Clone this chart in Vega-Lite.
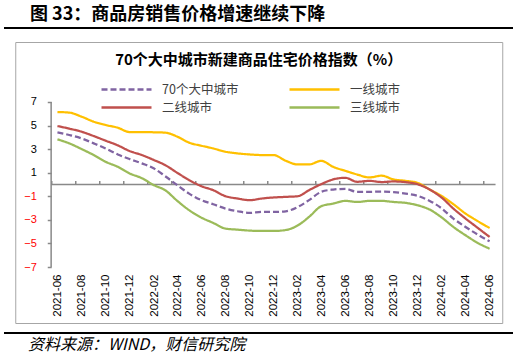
{
  "$schema": "https://vega.github.io/schema/vega-lite/v6.json",
  "background": "white",
  "padding": {"top": 6, "left": 3, "right": 0, "bottom": 8},
  "config": {"view": {"stroke": null}, "font": "Noto Sans CJK SC"},
  "spacing": 8,
  "center": true,
  "vconcat": [
    {
      "spacing": 12,
      "center": true,
      "vconcat": [
        {
          "width": 509,
          "height": 2,
          "title": {"text": "图 33：商品房销售价格增速继续下降", "anchor": "start", "frame": "group", "align": "left", "dx": 26, "fontSize": 18, "fontWeight": "bold", "color": "#000000", "offset": 3, "font": "Noto Sans CJK SC"},
          "data": {"values": [{}]},
          "mark": {"type": "rule", "color": "#000000", "strokeWidth": 2},
          "encoding": {"y": {"datum": 0.5, "type": "quantitative", "scale": {"domain": [0, 1]}, "axis": null}}
        },
        {
          "width": 487,
          "height": 281,
          "view": {"stroke": "#a6a6a6", "strokeWidth": 1},
          "title": {"text": "70个大中城市新建商品住宅价格指数（%）", "fontSize": 15, "fontWeight": "bold", "color": "#000000", "anchor": "middle", "frame": "group", "offset": -26, "font": "Noto Sans CJK SC"},
          "data": {
            "format": {"parse": {"date": "date:'%Y-%m'"}},
            "values": [
              {"date": "2021-06", "series": "70个大中城市", "value": 4.43},
              {"date": "2021-07", "series": "70个大中城市", "value": 4.2},
              {"date": "2021-08", "series": "70个大中城市", "value": 3.91},
              {"date": "2021-09", "series": "70个大中城市", "value": 3.49},
              {"date": "2021-10", "series": "70个大中城市", "value": 3.06},
              {"date": "2021-11", "series": "70个大中城市", "value": 2.55},
              {"date": "2021-12", "series": "70个大中城市", "value": 2.16},
              {"date": "2022-01", "series": "70个大中城市", "value": 1.79},
              {"date": "2022-02", "series": "70个大中城市", "value": 1.36},
              {"date": "2022-03", "series": "70个大中城市", "value": 0.71},
              {"date": "2022-04", "series": "70个大中城市", "value": -0.06},
              {"date": "2022-05", "series": "70个大中城市", "value": -0.77},
              {"date": "2022-06", "series": "70个大中城市", "value": -1.33},
              {"date": "2022-07", "series": "70个大中城市", "value": -1.67},
              {"date": "2022-08", "series": "70个大中城市", "value": -2.04},
              {"date": "2022-09", "series": "70个大中城市", "value": -2.27},
              {"date": "2022-10", "series": "70个大中城市", "value": -2.41},
              {"date": "2022-11", "series": "70个大中城市", "value": -2.33},
              {"date": "2022-12", "series": "70个大中城市", "value": -2.33},
              {"date": "2023-01", "series": "70个大中城市", "value": -2.27},
              {"date": "2023-02", "series": "70个大中城市", "value": -1.9},
              {"date": "2023-03", "series": "70个大中城市", "value": -1.33},
              {"date": "2023-04", "series": "70个大中城市", "value": -0.62},
              {"date": "2023-05", "series": "70个大中城市", "value": -0.43},
              {"date": "2023-06", "series": "70个大中城市", "value": -0.37},
              {"date": "2023-07", "series": "70个大中城市", "value": -0.62},
              {"date": "2023-08", "series": "70个大中城市", "value": -0.62},
              {"date": "2023-09", "series": "70个大中城市", "value": -0.6},
              {"date": "2023-10", "series": "70个大中城市", "value": -0.65},
              {"date": "2023-11", "series": "70个大中城市", "value": -0.77},
              {"date": "2023-12", "series": "70个大中城市", "value": -0.96},
              {"date": "2024-01", "series": "70个大中城市", "value": -1.39},
              {"date": "2024-02", "series": "70个大中城市", "value": -2.04},
              {"date": "2024-03", "series": "70个大中城市", "value": -2.89},
              {"date": "2024-04", "series": "70个大中城市", "value": -3.6},
              {"date": "2024-05", "series": "70个大中城市", "value": -4.23},
              {"date": "2024-06", "series": "70个大中城市", "value": -4.82},
              {"date": "2021-06", "series": "一线城市", "value": 6.15},
              {"date": "2021-07", "series": "一线城市", "value": 6.1},
              {"date": "2021-08", "series": "一线城市", "value": 5.76},
              {"date": "2021-09", "series": "一线城市", "value": 5.33},
              {"date": "2021-10", "series": "一线城市", "value": 5.05},
              {"date": "2021-11", "series": "一线城市", "value": 4.82},
              {"date": "2021-12", "series": "一线城市", "value": 4.45},
              {"date": "2022-01", "series": "一线城市", "value": 4.45},
              {"date": "2022-02", "series": "一线城市", "value": 4.43},
              {"date": "2022-03", "series": "一线城市", "value": 4.4},
              {"date": "2022-04", "series": "一线城市", "value": 4.06},
              {"date": "2022-05", "series": "一线城市", "value": 3.55},
              {"date": "2022-06", "series": "一线城市", "value": 3.29},
              {"date": "2022-07", "series": "一线城市", "value": 3.06},
              {"date": "2022-08", "series": "一线城市", "value": 2.78},
              {"date": "2022-09", "series": "一线城市", "value": 2.64},
              {"date": "2022-10", "series": "一线城市", "value": 2.55},
              {"date": "2022-11", "series": "一线城市", "value": 2.5},
              {"date": "2022-12", "series": "一线城市", "value": 2.5},
              {"date": "2023-01", "series": "一线城市", "value": 2.01},
              {"date": "2023-02", "series": "一线城市", "value": 1.7},
              {"date": "2023-03", "series": "一线城市", "value": 1.7},
              {"date": "2023-04", "series": "一线城市", "value": 2.01},
              {"date": "2023-05", "series": "一线城市", "value": 1.5},
              {"date": "2023-06", "series": "一线城市", "value": 1.16},
              {"date": "2023-07", "series": "一线城市", "value": 0.85},
              {"date": "2023-08", "series": "一线城市", "value": 0.6},
              {"date": "2023-09", "series": "一线城市", "value": 0.75},
              {"date": "2023-10", "series": "一线城市", "value": 0.43},
              {"date": "2023-11", "series": "一线城市", "value": 0.31},
              {"date": "2023-12", "series": "一线城市", "value": 0.14},
              {"date": "2024-01", "series": "一线城市", "value": -0.43},
              {"date": "2024-02", "series": "一线城市", "value": -0.99},
              {"date": "2024-03", "series": "一线城市", "value": -1.67},
              {"date": "2024-04", "series": "一线城市", "value": -2.47},
              {"date": "2024-05", "series": "一线城市", "value": -3.09},
              {"date": "2024-06", "series": "一线城市", "value": -3.69},
              {"date": "2021-06", "series": "二线城市", "value": 4.96},
              {"date": "2021-07", "series": "二线城市", "value": 4.74},
              {"date": "2021-08", "series": "二线城市", "value": 4.48},
              {"date": "2021-09", "series": "二线城市", "value": 4.11},
              {"date": "2021-10", "series": "二线城市", "value": 3.72},
              {"date": "2021-11", "series": "二线城市", "value": 3.32},
              {"date": "2021-12", "series": "二线城市", "value": 2.84},
              {"date": "2022-01", "series": "二线城市", "value": 2.5},
              {"date": "2022-02", "series": "二线城市", "value": 2.07},
              {"date": "2022-03", "series": "二线城市", "value": 1.65},
              {"date": "2022-04", "series": "二线城市", "value": 0.99},
              {"date": "2022-05", "series": "二线城市", "value": 0.37},
              {"date": "2022-06", "series": "二线城市", "value": -0.14},
              {"date": "2022-07", "series": "二线城市", "value": -0.48},
              {"date": "2022-08", "series": "二线城市", "value": -0.99},
              {"date": "2022-09", "series": "二线城市", "value": -1.19},
              {"date": "2022-10", "series": "二线城市", "value": -1.33},
              {"date": "2022-11", "series": "二线城市", "value": -1.19},
              {"date": "2022-12", "series": "二线城市", "value": -1.1},
              {"date": "2023-01", "series": "二线城市", "value": -1.05},
              {"date": "2023-02", "series": "二线城市", "value": -0.99},
              {"date": "2023-03", "series": "二线城市", "value": -0.48},
              {"date": "2023-04", "series": "二线城市", "value": 0.03},
              {"date": "2023-05", "series": "二线城市", "value": 0.43},
              {"date": "2023-06", "series": "二线城市", "value": 0.57},
              {"date": "2023-07", "series": "二线城市", "value": 0.23},
              {"date": "2023-08", "series": "二线城市", "value": 0.31},
              {"date": "2023-09", "series": "二线城市", "value": 0.21},
              {"date": "2023-10", "series": "二线城市", "value": 0.26},
              {"date": "2023-11", "series": "二线城市", "value": 0.2},
              {"date": "2023-12", "series": "二线城市", "value": 0.03},
              {"date": "2024-01", "series": "二线城市", "value": -0.43},
              {"date": "2024-02", "series": "二线城市", "value": -1.13},
              {"date": "2024-03", "series": "二线城市", "value": -2.04},
              {"date": "2024-04", "series": "二线城市", "value": -2.89},
              {"date": "2024-05", "series": "二线城市", "value": -3.66},
              {"date": "2024-06", "series": "二线城市", "value": -4.45},
              {"date": "2021-06", "series": "三线城市", "value": 3.83},
              {"date": "2021-07", "series": "三线城市", "value": 3.49},
              {"date": "2021-08", "series": "三线城市", "value": 3.01},
              {"date": "2021-09", "series": "三线城市", "value": 2.5},
              {"date": "2021-10", "series": "三线城市", "value": 1.93},
              {"date": "2021-11", "series": "三线城市", "value": 1.5},
              {"date": "2021-12", "series": "三线城市", "value": 0.94},
              {"date": "2022-01", "series": "三线城市", "value": 0.54},
              {"date": "2022-02", "series": "三线城市", "value": -0.06},
              {"date": "2022-03", "series": "三线城市", "value": -0.48},
              {"date": "2022-04", "series": "三线城市", "value": -1.39},
              {"date": "2022-05", "series": "三线城市", "value": -2.18},
              {"date": "2022-06", "series": "三线城市", "value": -2.81},
              {"date": "2022-07", "series": "三线城市", "value": -3.26},
              {"date": "2022-08", "series": "三线城市", "value": -3.74},
              {"date": "2022-09", "series": "三线城市", "value": -3.83},
              {"date": "2022-10", "series": "三线城市", "value": -3.91},
              {"date": "2022-11", "series": "三线城市", "value": -3.94},
              {"date": "2022-12", "series": "三线城市", "value": -3.94},
              {"date": "2023-01", "series": "三线城市", "value": -3.86},
              {"date": "2023-02", "series": "三线城市", "value": -3.46},
              {"date": "2023-03", "series": "三线城市", "value": -2.75},
              {"date": "2023-04", "series": "三线城市", "value": -1.84},
              {"date": "2023-05", "series": "三线城市", "value": -1.62},
              {"date": "2023-06", "series": "三线城市", "value": -1.39},
              {"date": "2023-07", "series": "三线城市", "value": -1.48},
              {"date": "2023-08", "series": "三线城市", "value": -1.39},
              {"date": "2023-09", "series": "三线城市", "value": -1.39},
              {"date": "2023-10", "series": "三线城市", "value": -1.48},
              {"date": "2023-11", "series": "三线城市", "value": -1.56},
              {"date": "2023-12", "series": "三线城市", "value": -1.76},
              {"date": "2024-01", "series": "三线城市", "value": -2.13},
              {"date": "2024-02", "series": "三线城市", "value": -2.81},
              {"date": "2024-03", "series": "三线城市", "value": -3.6},
              {"date": "2024-04", "series": "三线城市", "value": -4.31},
              {"date": "2024-05", "series": "三线城市", "value": -4.94},
              {"date": "2024-06", "series": "三线城市", "value": -5.45}
            ]
          },
          "resolve": {"axis": {"x": "independent", "y": "independent"}},
          "layer": [
            {
              "data": {"values": [{}]},
              "mark": {"type": "rule", "color": "#898989", "strokeWidth": 1.5},
              "encoding": {
                "x": {
                  "datum": {"year": 2021, "month": 5, "date": 16},
                  "type": "temporal",
                  "scale": {"domain": [{"year": 2021, "month": 2, "date": 14}, {"year": 2024, "month": 7, "date": 3}]},
                  "axis": {
                    "orient": "bottom",
                    "offset": -138.5,
                    "values": [
                      {"year": 2021, "month": 5, "date": 16}, {"year": 2021, "month": 7, "date": 16}, {"year": 2021, "month": 9, "date": 16}, {"year": 2021, "month": 11, "date": 16},
                      {"year": 2022, "month": 1, "date": 16}, {"year": 2022, "month": 3, "date": 16}, {"year": 2022, "month": 5, "date": 16}, {"year": 2022, "month": 7, "date": 16}, {"year": 2022, "month": 9, "date": 16}, {"year": 2022, "month": 11, "date": 16},
                      {"year": 2023, "month": 1, "date": 16}, {"year": 2023, "month": 3, "date": 16}, {"year": 2023, "month": 5, "date": 16}, {"year": 2023, "month": 7, "date": 16}, {"year": 2023, "month": 9, "date": 16}, {"year": 2023, "month": 11, "date": 16},
                      {"year": 2024, "month": 1, "date": 16}, {"year": 2024, "month": 3, "date": 16}, {"year": 2024, "month": 5, "date": 16}
                    ],
                    "labels": false,
                    "domain": false,
                    "ticks": true,
                    "tickSize": -4,
                    "tickColor": "#898989",
                    "tickWidth": 1.5,
                    "grid": false,
                    "title": null
                  }
                },
                "x2": {"datum": {"year": 2024, "month": 6, "date": 16}},
                "y": {"datum": 0, "type": "quantitative", "scale": {"domain": [-11.75, 12.09], "nice": false, "zero": false}, "axis": null}
              }
            },
            {
              "data": {"values": [{}]},
              "mark": {"type": "rule", "color": "#898989", "strokeWidth": 1.5},
              "encoding": {
                "x": {"datum": {"year": 2021, "month": 5, "date": 16}, "type": "temporal", "scale": {"domain": [{"year": 2021, "month": 2, "date": 14}, {"year": 2024, "month": 7, "date": 3}]}, "axis": null},
                "y": {"datum": -7, "type": "quantitative", "scale": {"domain": [-11.75, 12.09], "nice": false, "zero": false}, "axis": null},
                "y2": {"datum": 7}
              }
            },
            {
              "mark": {"type": "line", "strokeWidth": 2.25, "interpolate": "monotone"},
              "encoding": {
                "x": {
                  "field": "date",
                  "type": "temporal",
                  "scale": {"domain": [{"year": 2021, "month": 2, "date": 14}, {"year": 2024, "month": 7, "date": 3}]},
                  "axis": {
                    "orient": "bottom",
                    "offset": -56,
                    "values": [
                      {"year": 2021, "month": 6, "date": 1}, {"year": 2021, "month": 8, "date": 1}, {"year": 2021, "month": 10, "date": 1}, {"year": 2021, "month": 12, "date": 1},
                      {"year": 2022, "month": 2, "date": 1}, {"year": 2022, "month": 4, "date": 1}, {"year": 2022, "month": 6, "date": 1}, {"year": 2022, "month": 8, "date": 1}, {"year": 2022, "month": 10, "date": 1}, {"year": 2022, "month": 12, "date": 1},
                      {"year": 2023, "month": 2, "date": 1}, {"year": 2023, "month": 4, "date": 1}, {"year": 2023, "month": 6, "date": 1}, {"year": 2023, "month": 8, "date": 1}, {"year": 2023, "month": 10, "date": 1}, {"year": 2023, "month": 12, "date": 1},
                      {"year": 2024, "month": 2, "date": 1}, {"year": 2024, "month": 4, "date": 1}, {"year": 2024, "month": 6, "date": 1}
                    ],
                    "format": "%Y-%m",
                    "labelAngle": -90,
                    "labelFontSize": 11.5,
                    "labelFont": "Liberation Sans",
                    "labelColor": "#000000",
                    "labelPadding": 7,
                    "labelOverlap": false,
                    "labelFlush": false,
                    "ticks": false,
                    "domain": false,
                    "grid": false,
                    "title": null
                  }
                },
                "y": {
                  "field": "value",
                  "type": "quantitative",
                  "scale": {"domain": [-11.75, 12.09], "nice": false, "zero": false},
                  "axis": {
                    "orient": "left",
                    "offset": -36,
                    "values": [-7, -5, -3, -1, 1, 3, 5, 7],
                    "domain": false,
                    "ticks": true,
                    "tickSize": 4,
                    "tickColor": "#898989",
                    "tickWidth": 1.5,
                    "labelFontSize": 11,
                    "labelFont": "Liberation Sans",
                    "labelPadding": 11,
                    "labelFlush": false,
                    "labelColor": {"expr": "datum.value < 0 ? '#ff0000' : '#000000'"},
                    "grid": false,
                    "title": null
                  }
                },
                "color": {
                  "field": "series",
                  "type": "nominal",
                  "scale": {"domain": ["70个大中城市", "二线城市", "一线城市", "三线城市"], "range": ["#8064A2", "#C0504D", "#FFC000", "#9BBB59"]},
                  "legend": {
                    "orient": "none",
                    "legendX": 96,
                    "legendY": 56,
                    "columns": 2,
                    "title": null,
                    "symbolType": "stroke",
                    "symbolSize": 2500,
                    "symbolStrokeWidth": 2.5,
                    "clipHeight": 13,
                    "labelFontSize": 12.5,
                    "labelFont": "Noto Sans CJK SC",
                    "labelColor": "#404040",
                    "labelOffset": 9,
                    "columnPadding": 49,
                    "rowPadding": 5,
                    "padding": 0
                  }
                },
                "strokeDash": {
                  "field": "series",
                  "type": "nominal",
                  "scale": {"domain": ["70个大中城市", "二线城市", "一线城市", "三线城市"], "range": [[6, 3], [1, 0], [1, 0], [1, 0]]},
                  "legend": {
                    "orient": "none",
                    "legendX": 96,
                    "legendY": 56,
                    "columns": 2,
                    "title": null,
                    "symbolType": "stroke",
                    "symbolSize": 2500,
                    "symbolStrokeWidth": 2.5,
                    "clipHeight": 13,
                    "labelFontSize": 12.5,
                    "labelFont": "Noto Sans CJK SC",
                    "labelColor": "#404040",
                    "labelOffset": 9,
                    "columnPadding": 49,
                    "rowPadding": 5,
                    "padding": 0
                  }
                }
              }
            }
          ]
        }
      ]
    },
    {
      "width": 509,
      "height": 2,
      "title": {"text": "资料来源：WIND，财信研究院", "orient": "bottom", "anchor": "start", "frame": "group", "align": "left", "dx": 24, "fontSize": 16, "fontStyle": "italic", "fontWeight": "normal", "color": "#000000", "offset": 3, "font": "Noto Sans CJK SC"},
      "data": {"values": [{}]},
      "mark": {"type": "rule", "color": "#000000", "strokeWidth": 2},
      "encoding": {"y": {"datum": 0.5, "type": "quantitative", "scale": {"domain": [0, 1]}, "axis": null}}
    }
  ]
}
